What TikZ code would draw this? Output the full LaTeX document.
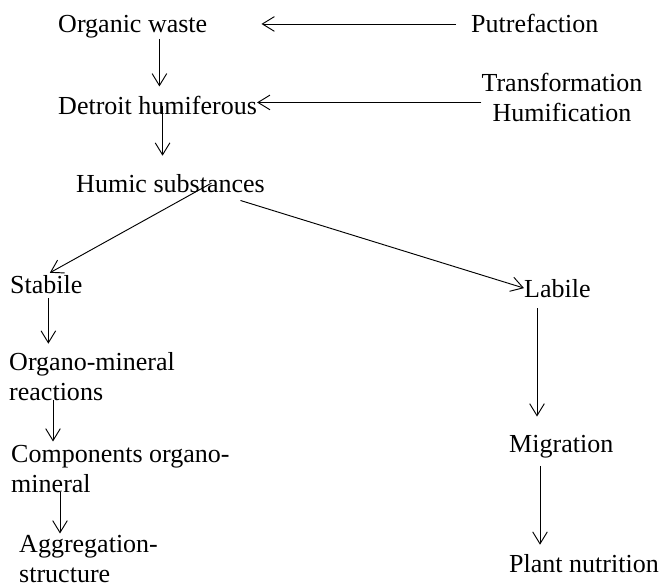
\documentclass[tikz,border=0pt]{standalone}
\usepackage{fontspec}
\setmainfont{Liberation Serif}
\usepackage{tikz}
\usetikzlibrary{arrows.meta, positioning, calc}

\begin{document}
\begin{tikzpicture}[every node/.style={font=\fontsize{22.2}{24.8}\selectfont, inner sep=0pt},
  txt/.style={anchor=base west, align=left},
  flow/.style={-{Straight Barb[length=0.36cm, width=0.44cm]}, line width=0.8pt}]
  \useasboundingbox (0,0) rectangle (19.8,-17.58);
  % upper part
  \node[txt] (organic) at (1.74, -0.99) {Organic waste};
  \node[txt] (putref) at (14.13, -0.99) {Putrefaction};
  \node[txt] (detroit) at (1.74, -3.45) {Detroit humiferous};
  \node[anchor=base, align=center] (trans) at (16.86, -3.63) {Transformation\\Humification};
  \node[txt] (humic) at (2.28, -5.76) {Humic substances};
  % left branch
  \node[txt] (stabile) at (0.3, -8.79) {Stabile};
  \node[txt] (organo) at (0.27, -12.0) {Organo-mineral\\reactions};
  \node[txt] (comp) at (0.33, -14.76) {Components organo-\\mineral};
  \node[txt] (aggr) at (0.57, -17.46) {Aggregation-\\structure};
  % right branch
  \node[txt] (labile) at (15.72, -8.91) {Labile};
  \node[txt] (migration) at (15.27, -13.56) {Migration};
  \node[txt] (plant) at (15.27, -17.16) {Plant nutrition};
  \draw[flow, shorten <=0.45cm, shorten >=1.62cm] (putref.west) -- (organic.east |- putref.west);
  \draw[flow] ([yshift=-0.15cm]trans.west) coordinate (tw) -- (detroit.east |- tw);
  \draw[flow, shorten >=0.3cm] ([xshift=0.8cm]organic.south) coordinate (o1) -- (o1 |- detroit.north);
  \draw[flow, shorten >=0.54cm] ([xshift=0.15cm]detroit.center) coordinate (d1) -- (d1 |- humic.north);
  \draw[flow, shorten >=0.12cm] ([xshift=1.23cm]humic.center) -- (stabile.north);
  \draw[flow] ([xshift=2.1cm, yshift=-0.24cm]humic.south) -- (labile.west);
  \draw[flow, shorten <=0.15cm, shorten >=0.27cm] ([xshift=0.06cm]stabile.south) coordinate (s1) -- (s1 |- organo.north);
  \draw[flow, shorten >=0.12cm] ([xshift=1.32cm]organo.south west) coordinate (r1) -- (r1 |- comp.north);
  \draw[flow, shorten >=0.06cm] ([xshift=1.47cm]comp.south west) coordinate (m1) -- (m1 |- aggr.north);
  \draw[flow, shorten <=0.33cm, shorten >=0.54cm] ([xshift=0.39cm]labile.south west) coordinate (l1) -- (l1 |- migration.north);
  \draw[flow, shorten <=0.24cm, shorten >=0.27cm] ([xshift=0.93cm]migration.south west) coordinate (g1) -- (g1 |- plant.north);
\end{tikzpicture}
\end{document}
